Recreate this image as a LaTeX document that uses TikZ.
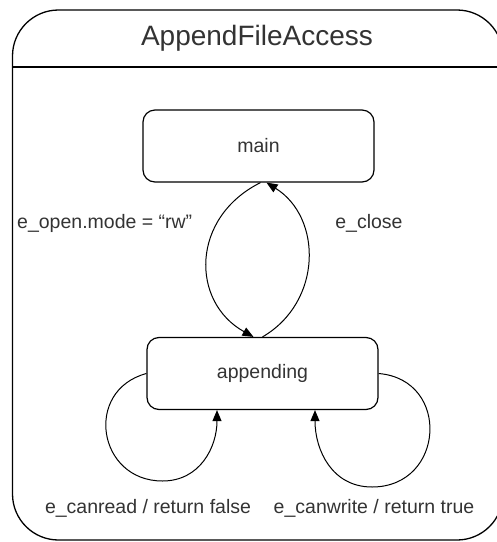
\documentclass[tikz,border=0pt]{standalone}
\usepackage{fontspec}
\setmainfont{Liberation Sans}
\usetikzlibrary{arrows.meta}

\begin{document}
\begin{tikzpicture}[
        x=1pt, y=1pt,
        state/.style={
            draw, rounded corners=12pt, line width=1.2pt,
            minimum width=231pt, minimum height=72pt,
            font=\fontsize{19.5}{23}\selectfont, text=black!80
        },
        trans/.style={
            line width=1pt,
            -{Triangle[length=11pt,width=9pt]}
        },
        lbl/.style={
            font=\fontsize{19.5}{23}\selectfont, inner sep=0pt, text=black!80
        }
    ]
    \useasboundingbox (0,0) rectangle (497,-542);
    \begin{scope}
        \clip (0,0) rectangle (497,-542);
        \draw[line width=1.3pt, rounded corners=46pt] (12.5,-10) rectangle (503,-540);
        \draw[line width=1.3pt] (12.5,-67) -- (503,-67);
    \end{scope}

    \node[lbl, font=\fontsize{28}{32}\selectfont] (title) at (257,-38) {AppendFileAccess};

    \node[state] (main) at (258.5,-146) {main};
    \node[state] (appending) at (262.5,-373.5) {appending};

    \draw[trans] ([xshift=2pt]main.south) .. controls +(-70,-35) and +(-63,35) .. ([xshift=-9pt]appending.north);
    \draw[trans] (appending.north) .. controls +(60,35) and +(56,-35) .. ([xshift=8pt]main.south);

    % self loops
    \coordinate (readlow) at (162.5,-481);
    \coordinate (writelow) at (372,-487);
    \draw[trans] (appending.west) .. controls +(-63,-17) and +(-65,0) .. (readlow)
        .. controls +(37.5,0) and +(0,-37) .. ([xshift=-45.5pt]appending.south);
    \draw[trans] (appending.east) .. controls +(72.5,-6) and +(73,0) .. (writelow)
        .. controls +(-40,0) and +(0,-40) .. ([xshift=52.5pt]appending.south);

    \node[lbl, anchor=west] (openlbl) at (17,-223) {e\_open.mode = ``rw''};
    \node[lbl] (closelbl) at (369,-223) {e\_close};
    \node[lbl] (readlbl) at (148,-508) {e\_canread / return false};
    \node[lbl] (writelbl) at (374,-508) {e\_canwrite / return true};
\end{tikzpicture}
\end{document}
